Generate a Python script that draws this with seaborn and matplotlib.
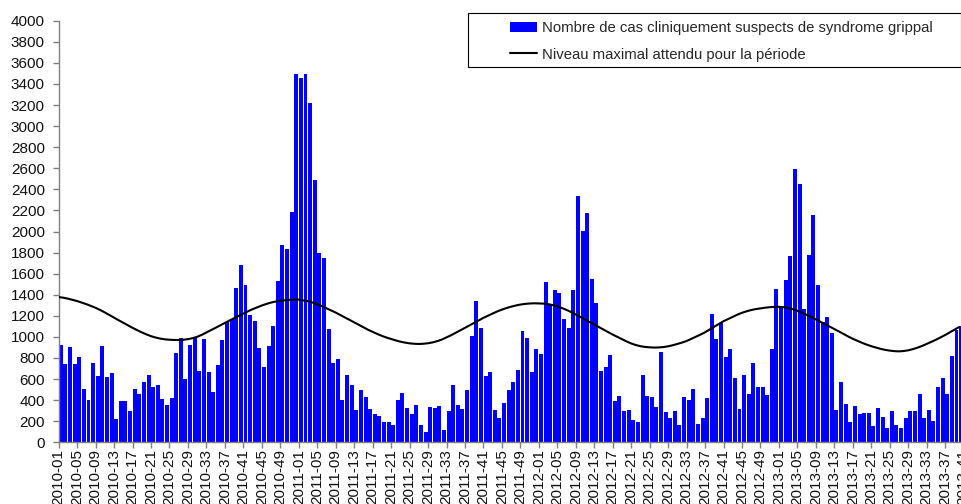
import matplotlib
matplotlib.use("Agg")
import matplotlib.pyplot as plt
import seaborn as sns
import pandas as pd
from matplotlib.patches import Patch, Rectangle
from matplotlib.lines import Line2D

# weekly counts, one list per year (2013 stops at week 40)
cases_2010 = [923, 743, 904, 743, 809, 506, 402, 753, 629, 914,
              620, 658, 221, 392, 392, 297, 506, 458, 572, 639,
              525, 544, 411, 354, 420, 847, 990, 601, 923, 999,
              677, 980, 667, 477, 734, 971, 1141, 1170, 1464, 1682,
              1493, 1208, 1151, 895, 715, 914, 1104, 1530, 1872, 1834,
              2185, 3494]
cases_2011 = [3456, 3494, 3219, 2489, 1796, 1749, 1075, 753, 790, 402,
              639, 544, 307, 496, 430, 316, 269, 250, 193, 193,
              164, 401, 468, 326, 269, 354, 164, 98, 335, 326,
              345, 117, 297, 544, 354, 316, 496, 1009, 1341, 1085,
              629, 667, 307, 231, 373, 496, 572, 686, 1056, 990,
              667, 885]
cases_2012 = [838, 1521, 1300, 1445, 1417, 1170, 1085, 1445, 2337, 2005,
              2175, 1549, 1322, 677, 715, 828, 392, 440, 297, 307,
              212, 193, 639, 440, 430, 335, 857, 288, 231, 297,
              164, 430, 402, 506, 174, 231, 420, 1217, 980, 1132,
              809, 885, 610, 316, 639, 458, 753, 525, 525, 449,
              885, 1455]
cases_2013 = [1293, 1540, 1768, 2593, 2450, 1265, 1777, 2157, 1492, 1141,
              1189, 1037, 307, 572, 364, 193, 345, 269, 278, 278,
              155, 326, 240, 136, 297, 164, 136, 231, 297, 297,
              458, 231, 307, 202, 525, 610, 458, 819, 1066, 1104]

# expected maximum level
level_2010 = [1378, 1372, 1363, 1352, 1340, 1326, 1311, 1294, 1276, 1255,
              1232, 1207, 1183, 1158, 1134, 1110, 1086, 1064, 1043, 1024,
              1007, 994, 984, 977, 973, 971, 971, 973, 979, 988,
              1001, 1020, 1042, 1064, 1087, 1110, 1133, 1156, 1178, 1200,
              1222, 1243, 1263, 1281, 1298, 1313, 1326, 1336, 1343, 1348,
              1352, 1354]
level_2011 = [1354, 1346, 1338, 1326, 1310, 1292, 1272, 1252, 1231, 1208,
              1185, 1162, 1139, 1115, 1091, 1068, 1048, 1028, 1010, 994,
              980, 967, 955, 946, 939, 935, 933, 935, 940, 948,
              960, 975, 995, 1016, 1039, 1062, 1086, 1110, 1134, 1158,
              1181, 1202, 1222, 1242, 1259, 1274, 1287, 1298, 1307, 1313,
              1317, 1319]
level_2012 = [1318, 1316, 1311, 1302, 1290, 1274, 1256, 1236, 1213, 1189,
              1165, 1141, 1117, 1093, 1069, 1045, 1022, 1000, 978, 957,
              938, 923, 912, 905, 901, 899, 900, 904, 911, 921,
              933, 946, 961, 981, 1001, 1022, 1044, 1071, 1097, 1123,
              1149, 1170, 1191, 1211, 1229, 1243, 1255, 1264, 1271, 1277,
              1282, 1285]
level_2013 = [1286, 1282, 1274, 1263, 1248, 1230, 1210, 1188, 1165, 1143,
              1121, 1098, 1076, 1052, 1028, 1004, 982, 963, 944, 927,
              912, 899, 887, 877, 870, 865, 863, 866, 873, 884,
              898, 914, 933, 953, 973, 995, 1018, 1043, 1068, 1093]

years = [2010, 2011, 2012, 2013]
weeks_in_year = [52, 52, 52, 44]
y_ticks = list(range(0, 4001, 200))

bar_label = "Nombre de cas cliniquement suspects de syndrome grippal"
line_label = "Niveau maximal attendu pour la période"


def main():
    cases = cases_2010 + cases_2011 + cases_2012 + cases_2013
    level = level_2010 + level_2011 + level_2012 + level_2013
    week_names = [f"{y}-{w:02d}" for y, n in zip(years, weeks_in_year) for w in range(1, n + 1)]

    df = pd.DataFrame({"week": range(len(cases)), "cases": cases, "level": level})
    df["pos"] = df["week"] + 0.46

    sns.set_style("white")
    plt.rcParams["font.family"] = ["Liberation Sans", "DejaVu Sans"]

    fig = plt.figure(figsize=(9.62, 5.04), dpi=100)
    ax = fig.add_axes([0.061, 0.1224, 197 * 4.617 / 962, 0.8365])

    sns.barplot(data=df, x="pos", y="cases", native_scale=True, width=0.86,
                color="#0000FF", saturation=1, errorbar=None, ax=ax, zorder=2)
    for b in ax.patches:
        b.set_edgecolor("none")
    sns.lineplot(data=df, x="week", y="level", color="black", linewidth=1.5, ax=ax, zorder=3)

    ax.set_xlim(0, 197)
    ax.set_ylim(0, 4000)
    ax.set_yticks(y_ticks)
    ax.set_yticklabels([str(v) for v in y_ticks], fontsize=11)
    tick_pos = list(range(0, len(week_names), 4))
    ax.set_xticks(tick_pos)
    ax.set_xticklabels([week_names[i] for i in tick_pos], rotation=90, fontsize=11,
                       ha="center", va="top")
    ax.set_xlabel("")
    ax.set_ylabel("")

    for side in ["top", "right"]:
        ax.spines[side].set_visible(False)
    for side in ["left", "bottom"]:
        ax.spines[side].set_color("#808080")
        ax.spines[side].set_linewidth(1.0)
    ax.tick_params(axis="y", direction="out", length=4, width=1, color="#808080",
                   pad=6, left=True, labelcolor="#111111")
    ax.tick_params(axis="x", direction="out", length=4, width=1, color="#808080",
                   pad=1, bottom=True, labelcolor="#111111")

    # legend: white box drawn by hand, entries placed inside it
    box = Rectangle((468 / 962, 1 - 67 / 504), (961 - 468) / 962, 54 / 504,
                    transform=fig.transFigure, facecolor="white", edgecolor="black",
                    linewidth=0.8, clip_on=False, zorder=5)
    ax.add_patch(box)
    handles = [Patch(facecolor="#0000FF", edgecolor="none"),
               Line2D([0], [0], color="black", linewidth=1.5)]
    leg = ax.legend(handles, [bar_label, line_label], loc="upper left",
                    bbox_to_anchor=(510 / 962, 1 - 21 / 504), bbox_transform=fig.transFigure,
                    frameon=False, fontsize=10.7, handlelength=1.85, handletextpad=0.3,
                    labelspacing=0.85, borderpad=0, borderaxespad=0)
    leg.set_zorder(6)

    fig.savefig("out.png", dpi=100)


if __name__ == "__main__":
    main()
